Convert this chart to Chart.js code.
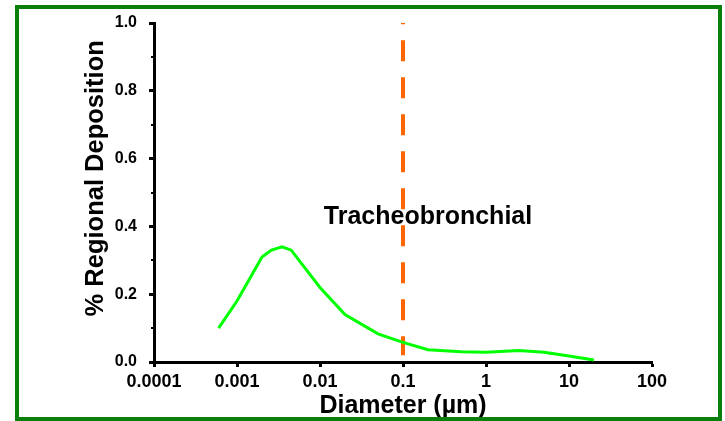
<!DOCTYPE html>
<html>
<head>
<meta charset="utf-8">
<script src="https://cdn.jsdelivr.net/npm/chart.js@4"></script>
<style>
    html, body { margin: 0; padding: 0; background: #fff; }
    canvas { display: block; }
</style>
</head>
<body>
<canvas id="depChart" width="725" height="421"></canvas>
<script>
// du lieu doc tu hinh
const diameters = [0.0006, 0.001, 0.002, 0.0026, 0.0035, 0.0045, 0.01, 0.02, 0.05, 0.1, 0.2, 0.5, 1, 2.5, 5, 10, 20];
const deposition = [0.10, 0.18, 0.31, 0.33, 0.34, 0.33, 0.22, 0.14, 0.083, 0.058, 0.036, 0.030, 0.029, 0.034, 0.029, 0.018, 0.006];

const cutoffX = [0.1, 0.1];
const cutoffY = [0.02, 1.0];

const xTickValues = [0.0001, 0.001, 0.01, 0.1, 1, 10, 100];
const xTickLabels = ['0.0001', '0.001', '0.01', '0.1', '1', '10', '100'];
const yMinorTicks = [0.1, 0.3, 0.5, 0.7, 0.9];

const noteText = 'Tracheobronchial';
const noteX = 0.2;
const noteY = 0.407;

const FONT = "'Liberation Sans', Arial, sans-serif";

// khung xanh + chu + vach phu truc y
const extras = {
    id: 'extras',
    beforeDraw(chart) {
        const ctx = chart.ctx;
        ctx.save();
        ctx.fillStyle = '#fff';
        ctx.fillRect(0, 0, chart.width, chart.height);
        ctx.restore();
    },
    beforeDatasetsDraw(chart) {
        const ctx = chart.ctx;
        const xs = chart.scales.x, ys = chart.scales.y;
        ctx.save();
        ctx.font = 'bold 25px ' + FONT;
        ctx.fillStyle = '#000';
        ctx.textAlign = 'center';
        ctx.textBaseline = 'alphabetic';
        ctx.fillText(noteText, xs.getPixelForValue(noteX), ys.getPixelForValue(noteY));
        ctx.restore();
    },
    afterDraw(chart) {
        const ctx = chart.ctx;
        const ys = chart.scales.y;
        const left = chart.chartArea.left;
        ctx.save();
        ctx.strokeStyle = '#000';
        ctx.lineWidth = 2;
        yMinorTicks.forEach(v => {
            const y = Math.round(ys.getPixelForValue(v));
            ctx.beginPath();
            ctx.moveTo(left - 3, y);
            ctx.lineTo(left, y);
            ctx.stroke();
        });
        ctx.strokeStyle = '#0a800a';
        ctx.lineWidth = 4;
        ctx.strokeRect(17, 7, 703, 412);
        ctx.restore();
    }
};

new Chart(document.getElementById('depChart').getContext('2d'), {
    type: 'line',
    data: {
        datasets: [
            {
                data: diameters.map((d, i) => ({ x: d, y: deposition[i] })),
                borderColor: '#00ff00',
                borderWidth: 3,
                pointRadius: 0,
                tension: 0,
                fill: false
            },
            {
                data: cutoffX.map((d, i) => ({ x: d, y: cutoffY[i] })),
                borderColor: '#ff6600',
                borderWidth: 4,
                borderDash: [21, 16],
                borderDashOffset: 2,
                pointRadius: 0,
                fill: false
            }
        ]
    },
    options: {
        responsive: false,
        animation: false,
        devicePixelRatio: 1,
        layout: { padding: { left: 0, right: 73, top: 23, bottom: 0 } },
        plugins: { legend: { display: false }, tooltip: { enabled: false } },
        scales: {
            x: {
                type: 'logarithmic',
                min: 0.0001,
                max: 100,
                afterBuildTicks: scale => { scale.ticks = xTickValues.map(v => ({ value: v })); },
                afterFit: scale => { scale.height = 59; },
                ticks: {
                    autoSkip: false,
                    maxRotation: 0,
                    padding: 4,
                    color: '#000',
                    font: { family: FONT, size: 18, weight: 'bold' },
                    callback: (v, i) => xTickLabels[i]
                },
                grid: { drawOnChartArea: false, tickLength: 5, tickColor: '#000', tickWidth: 3 },
                border: { color: '#000', width: 3 },
                title: {
                    display: true,
                    text: 'Diameter (µm)',
                    color: '#000',
                    font: { family: FONT, size: 25, weight: 'bold' },
                    padding: { top: 0, bottom: 0 }
                }
            },
            y: {
                min: 0,
                max: 1,
                afterFit: scale => { scale.width = 154; },
                ticks: {
                    stepSize: 0.2,
                    padding: 12,
                    color: '#000',
                    font: { family: FONT, size: 16, weight: 'bold' },
                    callback: v => v.toFixed(1)
                },
                grid: { drawOnChartArea: false, tickLength: 5, tickColor: '#000', tickWidth: 3 },
                border: { color: '#000', width: 3 },
                title: {
                    display: true,
                    // khoang trang dau de day chu len tren giong hinh goc
                    text: '    % Regional Deposition',
                    color: '#000',
                    font: { family: FONT, size: 25.5, weight: 'bold' },
                    padding: { top: 81, bottom: 0 }
                }
            }
        }
    },
    plugins: [extras]
});
</script>
</body>
</html>
